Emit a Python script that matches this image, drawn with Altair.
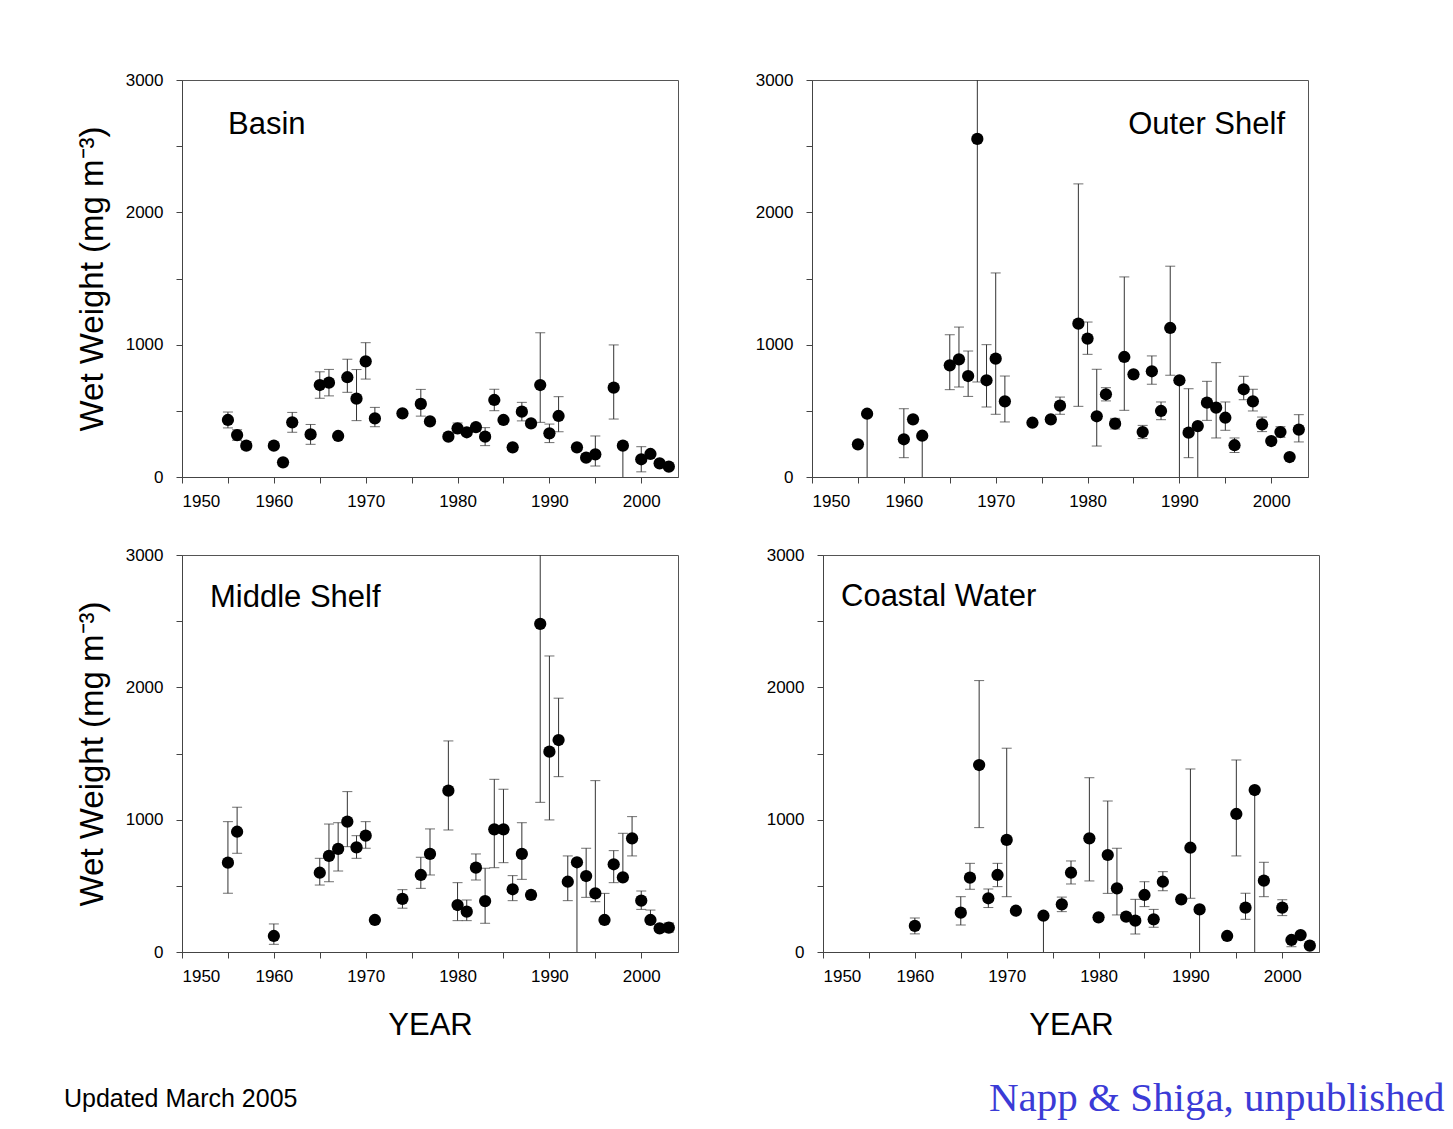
import altair as alt
import pandas as pd

# ---------------- data ----------------
basin_year = [1955, 1956, 1957, 1960, 1961, 1962, 1964, 1965, 1966, 1967, 1968, 1969, 1970, 1971,
              1974, 1976, 1977, 1979, 1980, 1981, 1982, 1983, 1984, 1985, 1986, 1987, 1988, 1989,
              1990, 1991, 1993, 1994, 1995, 1997, 1998, 2000, 2001, 2002, 2003]
basin_val = [431, 317, 237, 237, 111, 413, 322, 695, 713, 310, 754, 592, 874, 443,
             481, 552, 420, 305, 368, 338, 376, 305, 582, 431, 224, 494, 405, 695,
             330, 461, 224, 146, 171, 675, 237, 134, 174, 103, 78]
basin_lo = [371, 277, 207, 237, 111, 338, 247, 595, 613, 310, 640, 426, 740, 380,
            481, 460, 420, 305, 328, 338, 346, 237, 501, 431, 224, 424, 405, 413,
            260, 342, 224, 146, 83, 438, 0, 39, 174, 103, 78]
basin_hi = [491, 357, 267, 237, 111, 488, 397, 795, 813, 310, 890, 812, 1015, 526,
            481, 662, 420, 305, 408, 338, 406, 373, 663, 431, 224, 564, 405, 1090,
            400, 607, 224, 146, 310, 998, 237, 229, 174, 103, 78]

outer_year = [1955, 1956, 1960, 1961, 1962, 1965, 1966, 1967, 1968, 1969, 1970, 1971, 1974,
              1976, 1977, 1979, 1980, 1981, 1982, 1983, 1984, 1985, 1986, 1987, 1988, 1989,
              1990, 1991, 1992, 1993, 1994, 1995, 1996, 1997, 1998, 1999, 2000, 2001, 2002, 2003]
outer_val = [247, 478, 285, 436, 312, 844, 889, 763, 2555, 731, 894, 572, 410,
             436, 539, 1159, 1046, 459, 625, 403, 907, 776, 340, 799, 499, 1126,
             731, 335, 385, 562, 524, 448, 240, 663, 572, 398, 272, 340, 151, 358]
outer_lo = [247, 0, 146, 436, 0, 660, 680, 609, 718, 529, 474, 416, 410,
            436, 474, 534, 927, 234, 575, 363, 504, 776, 290, 701, 433, 769,
            0, 146, 0, 428, 295, 353, 185, 584, 499, 343, 272, 300, 151, 265]
outer_hi = [247, 478, 516, 436, 312, 1075, 1133, 952, 4390, 1000, 1542, 763, 410,
            436, 604, 2215, 1171, 814, 675, 443, 1512, 776, 390, 915, 567, 1593,
            731, 667, 385, 723, 864, 567, 295, 761, 663, 453, 272, 380, 151, 471]

middle_year = [1955, 1956, 1960, 1965, 1966, 1967, 1968, 1969, 1970, 1971, 1974, 1976, 1977,
               1979, 1980, 1981, 1982, 1983, 1984, 1985, 1986, 1987, 1988, 1989, 1990, 1991,
               1992, 1993, 1994, 1995, 1996, 1997, 1998, 1999, 2000, 2001, 2002, 2003]
middle_val = [675, 909, 121, 599, 726, 779, 985, 791, 879, 242, 401, 582, 741,
              1219, 355, 305, 637, 385, 927, 927, 474, 741, 431, 2479, 1514, 1602,
              531, 678, 574, 443, 242, 663, 564, 859, 388, 242, 179, 184]
middle_lo = [444, 746, 58, 506, 531, 612, 796, 708, 784, 242, 331, 481, 582,
             922, 237, 237, 544, 217, 637, 675, 388, 549, 401, 1131, 998, 1325,
             388, 0, 413, 380, 242, 524, 564, 726, 322, 242, 179, 150]
middle_hi = [985, 1094, 212, 708, 967, 977, 1212, 879, 985, 242, 471, 716, 930,
             1595, 524, 393, 741, 633, 1305, 1230, 577, 977, 461, 3827, 2237, 1918,
             726, 678, 784, 1295, 443, 766, 897, 1023, 461, 317, 179, 220]

coastal_year = [1960, 1965, 1966, 1967, 1968, 1969, 1970, 1971, 1974, 1976, 1977, 1979, 1980,
                1981, 1982, 1983, 1984, 1985, 1986, 1987, 1989, 1990, 1991, 1994, 1995, 1996,
                1997, 1998, 2000, 2001, 2002, 2003]
coastal_val = [197, 297, 562, 1413, 406, 582, 847, 312, 274, 360, 599, 859, 262,
               733, 481, 267, 237, 431, 247, 531, 398, 788, 322, 121, 1043, 335,
               1224, 539, 335, 91, 128, 48]
coastal_lo = [137, 204, 474, 940, 336, 494, 418, 312, 0, 305, 514, 537, 262,
              443, 280, 267, 136, 343, 187, 463, 398, 406, 0, 121, 726, 247,
              0, 418, 275, 40, 128, 48]
coastal_hi = [257, 418, 670, 2051, 476, 670, 1540, 312, 274, 415, 688, 1317, 262,
              1141, 784, 267, 398, 531, 322, 607, 398, 1383, 322, 121, 1451, 444,
              1224, 678, 395, 91, 128, 48]

panel_names = ["Basin", "Outer Shelf", "Middle Shelf", "Coastal Water"]
x_ticks = list(range(1950, 2001, 5))
y_ticks = list(range(0, 3001, 500))

FONT = "Liberation Sans"
W, H = 496, 397


def panel(name, years, vals, los, his, left, bottom, label_pos, footnote=None):
    df = pd.DataFrame({"year": years, "value": vals, "lo": los, "hi": his})
    x = alt.X("year:Q",
              scale=alt.Scale(domain=[1950, 2004], nice=False, zero=False),
              axis=alt.Axis(values=x_ticks, format="d",
                            labelExpr="datum.value % 10 == 0 ? datum.label : ''",
                            title="YEAR" if bottom else None))
    yax = alt.Axis(values=y_ticks, format="d",
                   labelExpr="datum.value % 1000 == 0 ? datum.label : ''",
                   title="Wet Weight (mg m\u207b\u00b3)" if left else None)
    yscale = alt.Scale(domain=[0, 3000], nice=False)
    base = alt.Chart(df)
    rules = base.mark_rule(color="#333333", strokeWidth=1, clip=True).encode(
        x=x, y=alt.Y("lo:Q", scale=yscale, axis=yax), y2="hi:Q")
    top_caps = base.transform_filter("datum.hi > datum.value").mark_tick(
        orient="horizontal", size=10, thickness=1, color="#333333", clip=True).encode(
        x="year:Q", y="hi:Q")
    bot_caps = base.transform_filter("datum.lo < datum.value && datum.lo > 0").mark_tick(
        orient="horizontal", size=10, thickness=1, color="#333333", clip=True).encode(
        x="year:Q", y="lo:Q")
    pts = base.mark_circle(size=150, color="black", opacity=1).encode(
        x="year:Q", y=alt.Y("value:Q"))
    lx, ly, al = label_pos
    lab = alt.Chart(pd.DataFrame({"t": [name]})).mark_text(
        font=FONT, fontSize=31, align=al, baseline="middle", color="black").encode(
        text="t:N", x=alt.value(lx), y=alt.value(ly))
    ch = alt.layer(rules, top_caps, bot_caps, pts, lab).properties(width=W, height=H)
    if footnote is not None:
        ch = ch.properties(title=footnote)
    return ch


foot_left = alt.TitleParams(text="Updated March 2005", orient="bottom", anchor="start",
                            frame="group", dx=-118, offset=47, font=FONT, fontSize=25,
                            fontWeight="normal", color="black")
foot_right = alt.TitleParams(text="Napp & Shiga, unpublished", orient="bottom", anchor="start",
                             frame="group", dx=166, offset=39, font="Liberation Serif",
                             fontSize=41, fontWeight="normal", color="#3b3bd6")

p1 = panel(panel_names[0], basin_year, basin_val, basin_lo, basin_hi, True, False, (46, 45, "left"))
p2 = panel(panel_names[1], outer_year, outer_val, outer_lo, outer_hi, False, False, (473, 45, "right"))
p3 = panel(panel_names[2], middle_year, middle_val, middle_lo, middle_hi, True, True, (28, 43, "left"), foot_left)
p4 = panel(panel_names[3], coastal_year, coastal_val, coastal_lo, coastal_hi, False, True, (18, 42, "left"), foot_right)

top = alt.hconcat(p1, p2, spacing=75)
bot = alt.hconcat(p3, p4, spacing=86)

chart = alt.vconcat(top, bot, spacing=35).properties(
    padding={"left": 63, "top": 70, "right": 0, "bottom": 5},
    background="white",
).configure_view(stroke="#555555", strokeWidth=1).configure_axis(
    grid=False, domainColor="#444444", tickColor="#444444", tickSize=6,
    labelPadding=13, labelFont=FONT, labelFontSize=17, labelColor="black",
    titleFont=FONT, titleFontSize=33, titleFontWeight="normal", titleColor="black",
    titlePadding=16,
).configure_axisBottom(labelPadding=10, titlePadding=26, titleFontSize=31).configure_concat(spacing=40)

chart.save("out.html", embed_options={"renderer": "svg", "actions": False})
